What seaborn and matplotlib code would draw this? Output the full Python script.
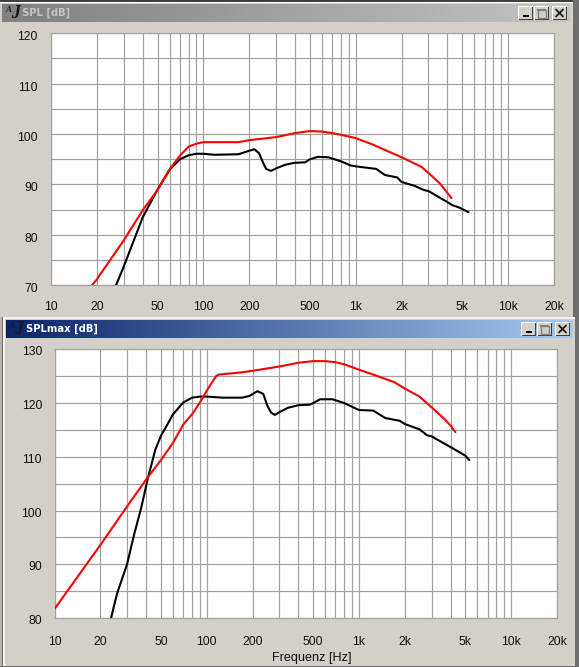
import numpy as np
import pandas as pd
import matplotlib
matplotlib.use("Agg")
import matplotlib.pyplot as plt
from matplotlib.patches import Rectangle
from matplotlib.ticker import FixedLocator, FixedFormatter, NullFormatter
from matplotlib.transforms import ScaledTranslation
import seaborn as sns

W, H = 579, 667

top_red_f = [18.6, 20, 30, 40, 50, 60, 70, 80, 90, 100, 130, 170, 200, 300, 400, 500, 600, 700, 790, 1000, 1300, 2000, 2700, 3000, 3570, 4000, 4250]
top_red_v = [70, 71.2, 78.9, 84.9, 88.9, 93, 95.7, 97.5, 98.1, 98.4, 98.4, 98.4, 98.8, 99.4, 100.2, 100.6, 100.5, 100.2, 99.9, 99.2, 97.9, 95.4, 93.5, 92.3, 90.2, 88.3, 87.3]
top_blk_f = [26.7, 30, 40, 50, 60, 70, 80, 90, 100, 118, 170, 200, 216, 232, 245, 258, 278, 300, 343, 395, 465, 500, 565, 660, 800, 920, 1000, 1200, 1360, 1550, 1870, 2000, 2450, 2800, 3000, 3600, 4000, 4300, 4800, 5500]
top_blk_v = [70, 73.7, 83.5, 89, 92.9, 95, 95.8, 96.1, 96.1, 95.9, 96, 96.7, 97, 96.2, 94.5, 93.1, 92.7, 93.2, 93.9, 94.3, 94.4, 95, 95.5, 95.4, 94.6, 93.8, 93.6, 93.3, 93.1, 91.9, 91.4, 90.5, 89.7, 88.9, 88.7, 87.3, 86.5, 85.9, 85.4, 84.5]
bot_red_f = [10, 20, 30, 40, 50, 60, 70, 80, 90, 100, 115, 120, 168, 200, 300, 400, 500, 600, 700, 800, 1000, 1240, 1700, 2000, 2500, 3000, 3650, 4000, 4300]
bot_red_v = [81.7, 93.6, 100.8, 105.8, 109.4, 112.6, 116, 117.9, 120.1, 122.3, 125, 125.3, 125.7, 126, 126.8, 127.5, 127.8, 127.8, 127.6, 127.2, 126.2, 125.3, 123.9, 122.7, 121.2, 119.2, 117, 115.8, 114.6]
bot_blk_f = [23.5, 25.7, 30, 33.2, 37, 41, 46, 50, 60, 70, 80, 90, 100, 127, 170, 190, 215, 235, 250, 265, 280, 300, 340, 400, 475, 500, 555, 670, 800, 1000, 1240, 1490, 1850, 2000, 2500, 2800, 3000, 4000, 5000, 5300]
bot_blk_v = [80, 84.5, 90.1, 95.4, 100.4, 106, 111.4, 113.9, 117.9, 120.1, 121, 121.2, 121.2, 121, 121, 121.3, 122.2, 121.7, 119.5, 118.2, 117.8, 118.3, 119.1, 119.6, 119.7, 120, 120.7, 120.7, 120, 118.7, 118.6, 117.2, 116.7, 116.1, 115.1, 114, 113.8, 111.8, 110.2, 109.4]

x_ticks = [10, 20, 50, 100, 200, 500, 1000, 2000, 5000, 10000, 20000]
x_labels = ["10", "20", "50", "100", "200", "500", "1k", "2k", "5k", "10k", "20k"]
x_minor = [30, 40, 60, 70, 80, 90, 300, 400, 600, 700, 800, 900,
           3000, 4000, 6000, 7000, 8000, 9000]
top_y_ticks = [70, 80, 90, 100, 110, 120]
bot_y_ticks = [80, 90, 100, 110, 120, 130]
top_title = "SPL [dB]"
bot_title = "SPLmax [dB]"
x_label = "Frequenz [Hz]"

sns.set_theme(style="white")
plt.rcParams["font.family"] = ["Liberation Sans", "DejaVu Sans"]
BG = "#D4D0C8"
GRID = "#A0A0A0"

fig = plt.figure(figsize=(W / 100, H / 100), dpi=100, facecolor=BG)

# window chrome, in pixel coordinates
ch = fig.add_axes([0, 0, 1, 1], zorder=0)
ch.set_xlim(0, W)
ch.set_ylim(H, 0)
ch.axis("off")


def rect(x0, y0, x1, y1, color, z=1):
    ch.add_patch(Rectangle((x0, y0), x1 - x0, y1 - y0, fc=color, ec="none", zorder=z))


def grad(x0, y0, x1, y1, c0, c1, z=2):
    cm = matplotlib.colors.LinearSegmentedColormap.from_list("g", [c0, c1])
    ch.imshow(np.linspace(0, 1, 256)[None, :], extent=(x0, x1, y1, y0), cmap=cm,
              aspect="auto", zorder=z)
    ch.set_xlim(0, W)
    ch.set_ylim(H, 0)


def buttons(xs, y0, y1, z=5):
    for i, xb in enumerate(xs):
        rect(xb, y0, xb + 15, y1, "#FFFFFF", z)
        rect(xb + 1, y0 + 1, xb + 15, y1, "#404040", z)
        rect(xb + 1, y0 + 1, xb + 14, y1 - 1, BG, z)
        if i == 0:
            rect(xb + 5, y1 - 5, xb + 11, y1 - 3, "#000000", z + 1)
        elif i == 1:
            ch.add_patch(Rectangle((xb + 3.5, y0 + 3.5), 8, 8, fc="none", ec="#808080", lw=1, zorder=z + 1))
            rect(xb + 3, y0 + 3, xb + 12, y0 + 5, "#808080", z + 1)
        else:
            ch.plot([xb + 4, xb + 11], [y0 + 3.5, y0 + 10.5], color="k", lw=1.3, zorder=z + 1)
            ch.plot([xb + 11, xb + 4], [y0 + 3.5, y0 + 10.5], color="k", lw=1.3, zorder=z + 1)


rect(0, 0, W, 1.5, "#404040")
rect(0, 1.5, W, 3, "#FFFFFF")
rect(573, 0, W, 322, "#6E6E6E")
grad(2, 4, 570, 22, "#808080", "#C4C4C4")
buttons([518, 534, 552], 6, 20)

# second (active) window
rect(3, 317, 576, H, BG, 3)
rect(3, 317, 576, 318.5, "#F4F2EE", 3)
rect(3, 317, 4.5, H, "#F4F2EE", 3)
rect(575, 317, W, H, "#6E6E6E", 3)
rect(0, H - 1.5, W, H, "#6E6E6E", 4)
rect(0, 317, 3, H, "#B8B4AC", 3)
rect(2, 317, 3.2, H, "#6E6E6E", 3)
grad(6, 320, 573, 338, "#0A246A", "#A6CAF0", 4)
buttons([521, 537, 555], 322, 336, 6)

for x0, yc, c, title, tx in [(6, 13, "#C4C4C4", top_title, 22), (9, 329, "#FFFFFF", bot_title, 26)]:
    ch.text(x0 + 2, yc - 3.5, "A", family="Liberation Serif", style="italic", weight="bold",
            fontsize=6.5, color="k", ha="center", va="center", zorder=7)
    ch.text(x0 + 9.5, yc, "J", family="Liberation Serif", style="italic", weight="bold",
            fontsize=13, color="k", ha="center", va="center", zorder=7)
    ch.text(tx, yc - 0.5, title, color=c, weight="bold", fontsize=7.2, family="DejaVu Sans",
            ha="left", va="center", zorder=7)


def panel(px, f_red, v_red, f_blk, v_blk, ylim, yticks, pad_y, pad_x, dy):
    x0, y0, x1, y1 = px
    ax = fig.add_axes([x0 / W, 1 - y1 / H, (x1 - x0) / W, (y1 - y0) / H], zorder=5, facecolor="white")
    for f, v, c in [(f_blk, v_blk, "#000000"), (f_red, v_red, "#FF0000")]:
        df = pd.DataFrame({"f": f, "v": v})
        sns.lineplot(data=df, x="f", y="v", estimator=None, sort=False, color=c, lw=1.5, ax=ax, zorder=3)
    ax.set_xscale("log")
    ax.set_xlim(10, 20000)
    ax.set_ylim(*ylim)
    ax.xaxis.set_major_locator(FixedLocator(x_ticks))
    ax.xaxis.set_major_formatter(FixedFormatter(x_labels))
    ax.xaxis.set_minor_locator(FixedLocator(x_minor))
    ax.xaxis.set_minor_formatter(NullFormatter())
    ax.yaxis.set_major_locator(FixedLocator(yticks))
    ax.yaxis.set_minor_locator(FixedLocator(list(range(ylim[0] + 5, ylim[1], 10))))
    ax.grid(True, which="both", color=GRID, lw=0.85)
    ax.set_axisbelow(True)
    ax.tick_params(which="both", length=0)
    ax.tick_params(axis="x", which="major", labelsize=8.7, pad=pad_x, labelcolor="#101010")
    ax.tick_params(axis="y", which="major", labelsize=8.7, pad=pad_y, labelcolor="#101010")
    for s in ax.spines.values():
        s.set_color(GRID)
        s.set_linewidth(0.85)
    ax.set_xlabel("")
    ax.set_ylabel("")
    fig.canvas.draw()
    for lab in ax.get_yticklabels():
        lab.set_transform(lab.get_transform() + ScaledTranslation(0, -dy / 100, fig.dpi_scale_trans))
    return ax


ax1 = panel((51, 33.3, 554, 285.3), top_red_f, top_red_v, top_blk_f, top_blk_v, (70, 120), top_y_ticks, 9.5, 11, 2.5)
ax2 = panel((54.6, 349.3, 557, 618), bot_red_f, bot_red_v, bot_blk_f, bot_blk_v, (80, 130), bot_y_ticks, 9, 13, 1.5)

ch.text(312, 658.5, x_label, fontsize=9.1, color="#101010", ha="center", va="center", zorder=7)

fig.savefig("out.png", dpi=100, facecolor=BG)
